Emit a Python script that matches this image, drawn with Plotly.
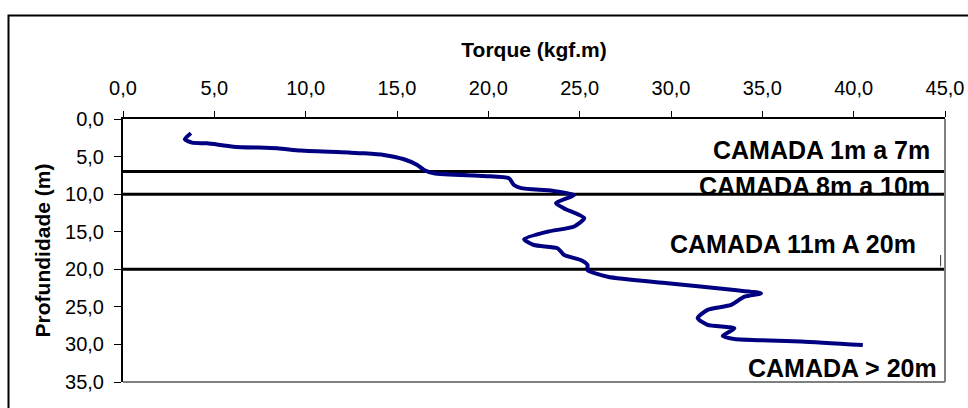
import plotly.graph_objects as go

# ---- data ----
torque = [3.72, 3.38, 3.78, 4.6, 6.06, 8.44, 9.72, 12.46, 13.19, 14.28, 15.38, 16.11, 16.48, 17.02,
          19.76, 21.13, 21.4, 21.8, 23.5, 24.7, 23.7, 24.15, 25.25, 24.7, 23.24, 21.96, 22.5, 23.79,
          24.15, 25.06, 25.43, 25.43, 26.53, 29.82, 33.47, 34.93, 34.02, 33.29, 32.0, 31.46, 32.0,
          33.47, 32.83, 33.47, 37.12, 40.5]
depth = [1.9, 2.7, 3.15, 3.24, 3.68, 3.9, 4.2, 4.48, 4.57, 4.79, 5.36, 6.12, 6.79, 7.23,
         7.59, 7.9, 8.78, 9.2, 9.55, 10.1, 11.2, 11.9, 13.2, 14.3, 15.0, 16.0, 16.77, 17.2,
         18.1, 18.77, 19.43, 20.1, 21.0, 21.87, 22.76, 23.2, 23.65, 24.75, 25.4, 26.5, 27.4,
         27.86, 28.88, 29.28, 29.6, 30.08]
layer_bounds = [7.0, 10.0, 20.0]
layer_labels = ["CAMADA 1m a 7m", "CAMADA 8m a 10m", "CAMADA 11m A 20m", "CAMADA > 20m"]
x_ticks = [0, 5, 10, 15, 20, 25, 30, 35, 40, 45]
y_ticks = [0, 5, 10, 15, 20, 25, 30, 35]
x_title = "Torque (kgf.m)"
y_title = "Profundidade (m)"

FONT = "Arial, Liberation Sans, sans-serif"

fig = go.Figure()

# layer boundary lines
for d in layer_bounds:
    fig.add_trace(go.Scatter(x=[0, 45.2], y=[d, d], mode="lines",
                             line=dict(color="black", width=3), showlegend=False,
                             hoverinfo="skip", cliponaxis=False))

# torque profile
fig.add_trace(go.Scatter(x=torque, y=depth, mode="lines",
                         line=dict(color="#000080", width=4, shape="spline", smoothing=0.6),
                         showlegend=False))

# layer labels (right-aligned)
label_pos = [(44.29, 4.13), (44.29, 8.85), (43.52, 16.6), (44.65, 33.1)]
for txt, (ax, ay) in zip(layer_labels, label_pos):
    fig.add_annotation(x=ax, y=ay, xref="x", yref="y", text=txt, showarrow=False,
                       xanchor="right", yanchor="middle",
                       font=dict(family=FONT, size=25, color="black", weight="bold"))

# right & bottom plot-area border (gray)
fig.add_shape(type="line", xref="paper", yref="paper", x0=1, x1=1, y0=0, y1=1,
              line=dict(color="#808080", width=2))
fig.add_shape(type="line", xref="paper", yref="paper", x0=0, x1=1, y0=0, y1=0,
              line=dict(color="#808080", width=2))
# small artifact tick
fig.add_shape(type="line", xref="x", yref="y", x0=44.76, x1=44.76, y0=18.1, y1=19.6,
              line=dict(color="#333333", width=1))
# outer frame
fig.add_shape(type="rect", xref="paper", yref="paper",
              x0=(8.5 - 123) / 822, x1=(980 - 123) / 822,
              y0=(382 - 420) / 263, y1=(382 - 15.5) / 263,
              line=dict(color="black", width=2), fillcolor="rgba(0,0,0,0)", layer="above")

fig.update_layout(
    width=968, height=408,
    margin=dict(l=123, r=23, t=119, b=26),
    paper_bgcolor="white", plot_bgcolor="white",
    separators=",.",
    font=dict(family=FONT, color="black"),
    xaxis=dict(side="top", range=[0, 45], tickvals=x_ticks, tickformat=".1f",
               automargin=False,
               showgrid=False, zeroline=False, showline=True, linecolor="black", linewidth=2,
               ticks="outside", ticklen=6, tickcolor="black", tickwidth=1,
               ticklabelstandoff=8,
               tickfont=dict(size=20, family=FONT),
               title=dict(text=x_title, standoff=14,
                          font=dict(size=21, family=FONT, weight="bold"))),
    yaxis=dict(range=[35, 0], tickvals=y_ticks, tickformat=".1f",
               automargin=False,
               showgrid=False, zeroline=False, showline=True, linecolor="black", linewidth=2,
               ticks="outside", ticklen=7, tickcolor="black", tickwidth=1,
               ticklabelstandoff=6,
               tickfont=dict(size=20, family=FONT),
               title=dict(text=y_title, standoff=9,
                          font=dict(size=21, family=FONT, weight="bold"))),
)

fig.write_html("out.html", config={"displayModeBar": False},
               post_script="document.body.style.margin='0';document.body.style.overflow='hidden';")
